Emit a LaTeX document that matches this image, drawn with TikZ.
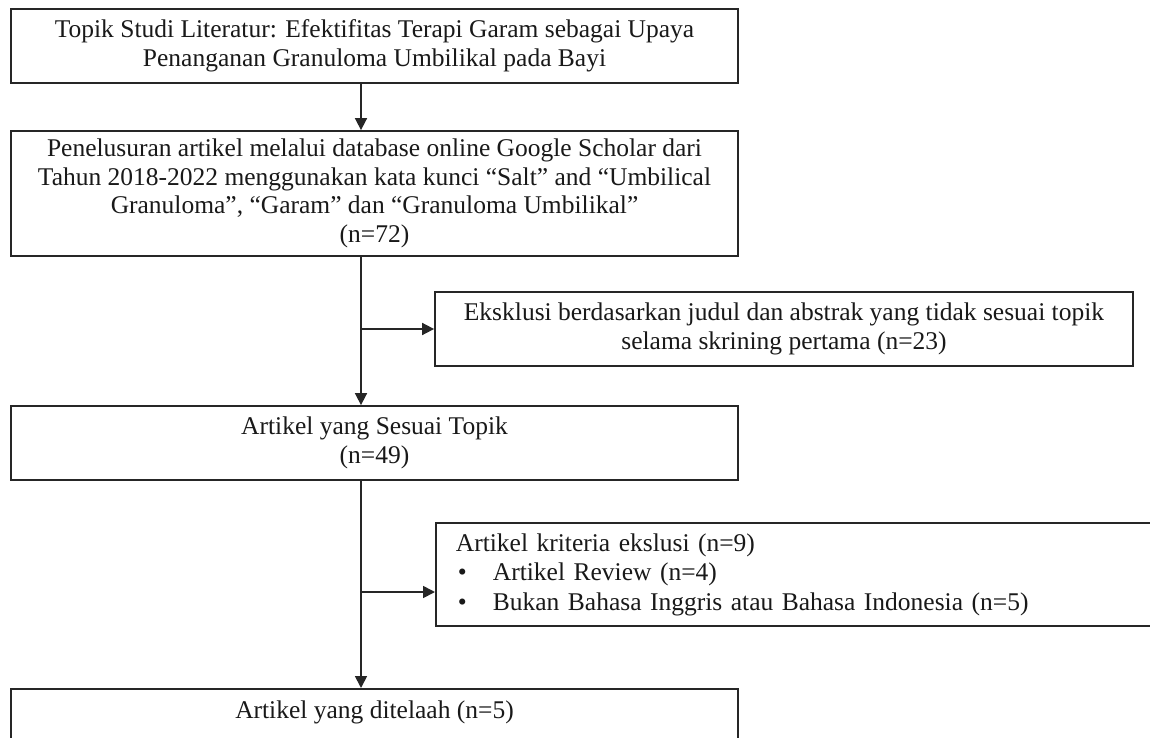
\documentclass[tikz,border=0pt]{standalone}
\usepackage{fontspec}
\setmainfont{Liberation Serif}
\usetikzlibrary{arrows.meta}
\begin{document}
\begin{tikzpicture}[x=1pt,y=-1pt,
  box/.style={draw=black!85, line width=1.8pt, inner sep=0pt, align=center,
    text=black!90, font=\fontsize{25.5}{28.7}\selectfont},
  arr/.style={draw=black!85, line width=1.7pt, -{Triangle[length=12pt,width=12pt]}}]
\useasboundingbox (0,0) rectangle (1150,738);
\clip (0,0) rectangle (1150,738);
\fill[white] (0,0) rectangle (1150,738);

\node[box, minimum width=727pt, minimum height=74pt] (topik) at (374.5,46)
  {Topik Studi Literatur: Efektifitas Terapi Garam sebagai Upaya\\Penanganan Granuloma Umbilikal pada Bayi};

\node[box, minimum width=727pt, minimum height=125pt] (search) at (374.5,193.5)
  {Penelusuran artikel melalui database online Google Scholar dari\\Tahun 2018-2022 menggunakan kata kunci “Salt” and “Umbilical\\Granuloma”, “Garam” dan “Granuloma Umbilikal”\\(n=72)};

\node[box, minimum width=698pt, minimum height=74pt] (eks) at (784,329)
  {Eksklusi berdasarkan judul dan abstrak yang tidak sesuai topik\\selama skrining pertama (n=23)};

\node[box, minimum width=727pt, minimum height=74pt] (sesuai) at (374.5,443)
  {Artikel yang Sesuai Topik\\(n=49)};

\node[box, anchor=west, align=left, text width=690pt, inner xsep=20pt, minimum height=103pt,
  font=\fontsize{25.5}{29.5}\selectfont] (krit) at (435,574.5)
  {Artikel kriteria ekslusi (n=9)\\
   \makebox[37pt][l]{\hspace{2pt}•}Artikel Review (n=4)\\
   \makebox[37pt][l]{\hspace{2pt}•}Bukan Bahasa Inggris atau Bahasa Indonesia (n=5)};

\node[box, anchor=north, minimum width=727pt, inner ysep=12pt] (final) at (374.5,688)
  {Artikel yang ditelaah (n=5)\\[20pt]~};

\coordinate (spine) at (361,0);
\draw[arr] (spine |- topik.south) -- (spine |- search.north);
\draw[arr] (spine |- search.south) -- (spine |- sesuai.north);
\draw[arr] (spine |- eks.west) -- (eks.west);
\draw[arr] (spine |- sesuai.south) -- (spine |- final.north);
\draw[arr] ([yshift=-17.5pt]krit.west -| spine) -- ([yshift=-17.5pt]krit.west);
\end{tikzpicture}
\end{document}
